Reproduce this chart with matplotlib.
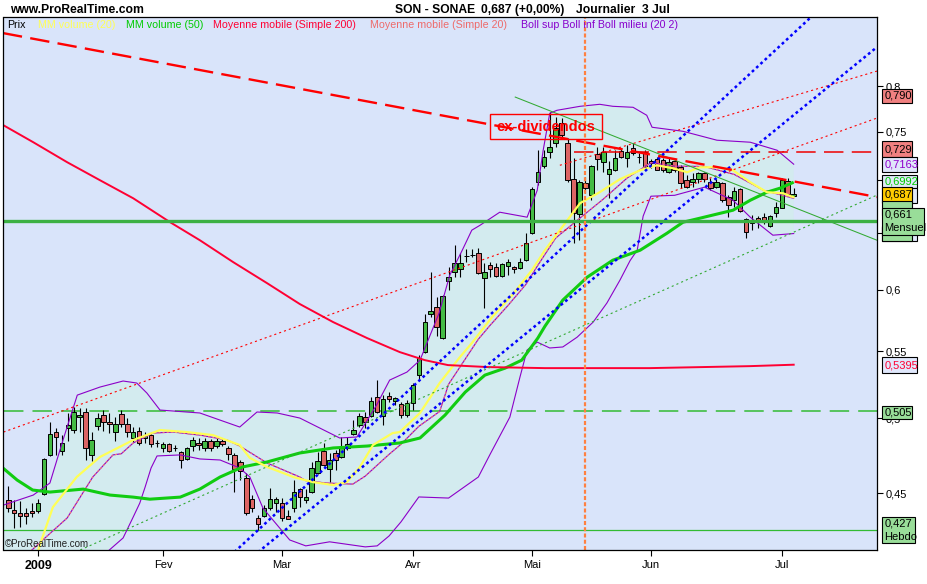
import numpy as np
import pandas as pd
import matplotlib
matplotlib.use("Agg")
import matplotlib.pyplot as plt
from matplotlib.patches import Rectangle
from matplotlib.ticker import NullLocator

plt.rcParams['font.family'] = ['Liberation Sans', 'DejaVu Sans']
plt.rcParams['lines.scale_dashes'] = False

# ---------------- data ----------------
start_date = '2008-12-23'
end_date = '2009-07-03'
closed_days = ['2008-12-25', '2008-12-26', '2009-01-01', '2009-04-10', '2009-04-13', '2009-05-01']
month_labels = ['2009', 'Fev', 'Mar', 'Avr', 'Mai', 'Jun', 'Jul']

opens = [0.4455, 0.4393, 0.4375, 0.4375, 0.4387, 0.4387, 0.4494, 0.4749, 0.4905, 0.4775,
         0.4933, 0.4919, 0.5010, 0.5046, 0.4749, 0.4947, 0.5024, 0.4975, 0.4905, 0.5031,
         0.4961, 0.4864, 0.4912, 0.4864, 0.4884, 0.4832, 0.4796, 0.4823, 0.4797, 0.4769,
         0.4722, 0.4809, 0.4830, 0.4796, 0.4843, 0.4809, 0.4843, 0.4796, 0.4749, 0.4702,
         0.4596, 0.4461, 0.4344, 0.4356, 0.4405, 0.4436, 0.4436, 0.4356, 0.4405, 0.4525,
         0.4455, 0.4506, 0.4629, 0.4775, 0.4655, 0.4762, 0.4735, 0.4796, 0.4891, 0.4954,
         0.5010, 0.5017, 0.5154, 0.5017, 0.5161, 0.5125, 0.5103, 0.5024, 0.5110, 0.5316,
         0.5492, 0.5795, 0.5853, 0.5602, 0.6071, 0.6149, 0.6175, 0.6288, 0.6296, 0.6316,
         0.6097, 0.6210, 0.6192, 0.6114, 0.6201, 0.6192, 0.6184, 0.6254, 0.6497, 0.6983,
         0.7142, 0.7285, 0.7379, 0.7590, 0.7379, 0.7013, 0.6674, 0.6973, 0.6855, 0.7265,
         0.7183, 0.7063, 0.7102, 0.7296, 0.7223, 0.7327, 0.7236, 0.7285, 0.7193, 0.7213,
         0.7203, 0.7082, 0.7193, 0.7132, 0.7003, 0.6983, 0.7013, 0.7072, 0.6983, 0.6934,
         0.6973, 0.6836, 0.6807, 0.6914, 0.6627, 0.6618, 0.6636, 0.6646, 0.6562, 0.6684,
         0.6731, 0.6993, 0.6850]
highs = [0.4545, 0.4455, 0.4449, 0.4405, 0.4436, 0.4461, 0.4729, 0.4975, 0.4933, 0.4884,
         0.5039, 0.5081, 0.5074, 0.5074, 0.4905, 0.5039, 0.5060, 0.5039, 0.5010, 0.5060,
         0.5003, 0.4940, 0.4940, 0.4905, 0.4905, 0.4850, 0.4836, 0.4830, 0.4816, 0.4775,
         0.4803, 0.4871, 0.4864, 0.4864, 0.4857, 0.4871, 0.4864, 0.4809, 0.4762, 0.4715,
         0.4629, 0.4487, 0.4362, 0.4424, 0.4532, 0.4474, 0.4468, 0.4393, 0.4583, 0.4532,
         0.4525, 0.4702, 0.4769, 0.4830, 0.4762, 0.4782, 0.4871, 0.4871, 0.4989, 0.5039,
         0.5046, 0.5154, 0.5279, 0.5168, 0.5190, 0.5154, 0.5117, 0.5132, 0.5257, 0.5469,
         0.5795, 0.6149, 0.5936, 0.5953, 0.6192, 0.6388, 0.6316, 0.6352, 0.6352, 0.6361,
         0.6228, 0.6237, 0.6228, 0.6228, 0.6263, 0.6201, 0.6272, 0.6497, 0.6934, 0.7306,
         0.7306, 0.7708, 0.7654, 0.7643, 0.7431, 0.7223, 0.7003, 0.7033, 0.7152, 0.7337,
         0.7337, 0.7193, 0.7306, 0.7316, 0.7358, 0.7379, 0.7275, 0.7306, 0.7213, 0.7234,
         0.7223, 0.7223, 0.7213, 0.7152, 0.7053, 0.7072, 0.7082, 0.7082, 0.7023, 0.7013,
         0.6983, 0.6855, 0.6934, 0.6924, 0.6636, 0.6665, 0.6655, 0.6684, 0.6665, 0.6788,
         0.7023, 0.7023, 0.6924]
lows = [0.4381, 0.4283, 0.4290, 0.4308, 0.4350, 0.4375, 0.4487, 0.4742, 0.4749, 0.4749,
        0.4843, 0.4898, 0.4905, 0.4715, 0.4708, 0.4919, 0.4912, 0.4898, 0.4843, 0.4940,
        0.4871, 0.4836, 0.4816, 0.4830, 0.4803, 0.4803, 0.4769, 0.4769, 0.4775, 0.4662,
        0.4715, 0.4775, 0.4782, 0.4775, 0.4775, 0.4796, 0.4809, 0.4715, 0.4506, 0.4583,
        0.4362, 0.4381, 0.4271, 0.4350, 0.4393, 0.4381, 0.4326, 0.4335, 0.4381, 0.4411,
        0.4436, 0.4500, 0.4622, 0.4675, 0.4570, 0.4649, 0.4729, 0.4782, 0.4884, 0.4940,
        0.4933, 0.5010, 0.5039, 0.4954, 0.5117, 0.5096, 0.5003, 0.5010, 0.5060, 0.5279,
        0.5484, 0.5770, 0.5617, 0.5594, 0.5995, 0.6106, 0.6106, 0.6237, 0.6281, 0.6132,
        0.5845, 0.6106, 0.6106, 0.6106, 0.6123, 0.6140, 0.6175, 0.6245, 0.6488, 0.6953,
        0.7122, 0.7223, 0.7337, 0.7441, 0.6983, 0.6406, 0.6433, 0.6875, 0.6807, 0.7102,
        0.7082, 0.6826, 0.7092, 0.7223, 0.7132, 0.7254, 0.7173, 0.7102, 0.7122, 0.7102,
        0.7082, 0.7072, 0.7082, 0.6924, 0.6924, 0.6934, 0.6973, 0.6983, 0.6904, 0.6924,
        0.6788, 0.6646, 0.6740, 0.6693, 0.6451, 0.6525, 0.6543, 0.6581, 0.6553, 0.6646,
        0.6731, 0.6855, 0.6846]
closes = [0.4405, 0.4375, 0.4356, 0.4356, 0.4375, 0.4436, 0.4722, 0.4891, 0.4871, 0.4830,
          0.4954, 0.5046, 0.5024, 0.4796, 0.4850, 0.5003, 0.4975, 0.4961, 0.4961, 0.4961,
          0.4905, 0.4905, 0.4830, 0.4884, 0.4823, 0.4830, 0.4823, 0.4775, 0.4795, 0.4715,
          0.4796, 0.4850, 0.4816, 0.4843, 0.4796, 0.4843, 0.4823, 0.4755, 0.4655, 0.4642,
          0.4375, 0.4405, 0.4308, 0.4405, 0.4461, 0.4461, 0.4344, 0.4338, 0.4506, 0.4474,
          0.4474, 0.4662, 0.4708, 0.4682, 0.4715, 0.4715, 0.4796, 0.4823, 0.4919, 0.5017,
          0.4975, 0.5125, 0.5046, 0.5139, 0.5139, 0.5146, 0.5024, 0.5110, 0.5242, 0.5445,
          0.5730, 0.5820, 0.5689, 0.5945, 0.6106, 0.6228, 0.6228, 0.6292, 0.6300, 0.6140,
          0.6149, 0.6175, 0.6114, 0.6219, 0.6237, 0.6175, 0.6237, 0.6406, 0.6914, 0.7082,
          0.7234, 0.7337, 0.7536, 0.7462, 0.7003, 0.6684, 0.6983, 0.6924, 0.7142, 0.7213,
          0.7285, 0.7112, 0.7223, 0.7234, 0.7285, 0.7275, 0.7232, 0.7132, 0.7173, 0.7102,
          0.7102, 0.7183, 0.7102, 0.6973, 0.6934, 0.7013, 0.7072, 0.7013, 0.6924, 0.6983,
          0.6807, 0.6759, 0.6894, 0.6703, 0.6507, 0.6590, 0.6599, 0.6609, 0.6655, 0.6740,
          0.7003, 0.6870, 0.6870]

# Moyenne mobile (Simple 200)
ma200_x = [-0.8, 4.2, 9.9, 15.4, 21.0, 27.2, 32.2, 37.8, 43.5, 49.0, 54.6, 60.3, 65.8,
           70.0, 73.9, 80.6, 90.2, 107.8, 124.6, 132.0]
ma200_y = [0.7568, 0.7389, 0.7183, 0.7003, 0.6826, 0.6599, 0.6433, 0.6237, 0.6054, 0.5878,
           0.5730, 0.5602, 0.5492, 0.5430, 0.5392, 0.5377, 0.5369, 0.5369, 0.5384, 0.5395]

# Bollinger (20, 2)
boll_up_x = [-0.8, 4.2, 7.0, 9.2, 11.6, 15.4, 19.3, 21.6, 23.3, 25.5, 32.2, 38.9, 41.8, 45.2,
             49.0, 55.7, 58.6, 61.9, 64.1, 67.0, 69.2, 72.4, 74.2, 76.3, 77.9, 79.3, 82.6,
             87.2, 88.9, 89.9, 91.0, 92.2, 96.1, 99.4, 101.6, 105.0, 107.3, 108.2, 113.4,
             119.1, 124.7, 129.2, 132.0]
boll_up_y = [0.4424, 0.4487, 0.4564, 0.4850, 0.5168, 0.5227, 0.5272, 0.5257, 0.5183, 0.5060,
             0.5039, 0.4940, 0.5046, 0.5039, 0.5003, 0.4864, 0.4871, 0.5096, 0.5279, 0.5339,
             0.5430, 0.5803, 0.6123, 0.6343, 0.6525, 0.6571, 0.6693, 0.6646, 0.6904, 0.7306,
             0.7697, 0.7730, 0.7774, 0.7796, 0.7774, 0.7763, 0.7676, 0.7547, 0.7504, 0.7410,
             0.7389, 0.7306, 0.7163]
boll_low_x = [-1.0, 5.0, 10.0, 14.0, 16.8, 19.3, 21.0, 22.1, 23.0, 24.0, 25.0, 28.9, 32.2,
              35.6, 38.9, 40.6, 42.8, 47.3, 50.0, 54.0, 57.0, 60.0, 62.0, 64.0, 66.0, 69.0,
              74.0, 79.0, 81.0, 84.3, 86.0, 87.2, 88.9, 91.0, 93.2, 95.6, 98.3, 100.6, 102.8,
              104.5, 105.7, 106.7, 108.0, 112.0, 117.0, 121.8, 124.7, 128.5, 132.0]
boll_low_y = [0.400, 0.395, 0.392, 0.400, 0.4146, 0.4223, 0.4350, 0.4436, 0.4538, 0.4662,
              0.4742, 0.4749, 0.4722, 0.4715, 0.4662, 0.4603, 0.4405, 0.4211, 0.4176, 0.4200,
              0.4185, 0.4170, 0.4176, 0.4235, 0.4320, 0.4475, 0.4468, 0.4603, 0.4755, 0.5010,
              0.5302, 0.5508, 0.5570, 0.5524, 0.5532, 0.5609, 0.5730, 0.5886, 0.6080, 0.6250,
              0.6343, 0.6656, 0.6846, 0.6855, 0.6934, 0.6807, 0.6646, 0.6479, 0.6494]
boll_mid_x = [-1.0, 3.0, 5.8, 9.9, 14.2, 17.6, 19.0, 21.0, 24.3, 27.7, 32.2, 36.8, 38.9,
              43.5, 49.0, 50.0, 53.5, 57.9, 60.0, 64.0, 66.0, 69.0, 72.5, 74.0, 79.0, 81.0,
              84.0, 87.0, 89.0, 92.0, 96.0, 100.0, 104.0, 108.0, 112.0, 117.0, 122.0, 127.0,
              132.0]
boll_mid_y = [0.405, 0.412, 0.4211, 0.4344, 0.4603, 0.4749, 0.4757, 0.4830, 0.4898, 0.4905,
              0.4884, 0.4850, 0.4809, 0.4695, 0.4603, 0.4579, 0.4564, 0.4557, 0.4609, 0.4753,
              0.4821, 0.4945, 0.5050, 0.5248, 0.5593, 0.5705, 0.5867, 0.6044, 0.6209, 0.6453,
              0.6634, 0.6818, 0.7024, 0.7178, 0.7143, 0.7140, 0.7060, 0.6902, 0.6826]

# MM volume (20) and MM volume (50)
mmv20_x = [4.5, 5.3, 7.5, 11.5, 15.4, 21.0, 25.5, 30.0, 34.4, 38.9, 40.6, 43.5, 46.2, 47.9,
           51.2, 54.6, 56.9, 59.1, 61.3, 64.6, 65.8, 69.2, 72.5, 75.9, 77.9, 81.3, 84.7,
           88.0, 90.2, 92.7, 96.1, 99.4, 102.8, 106.2, 109.0, 111.7, 114.1, 116.2, 119.1,
           121.8, 124.7, 127.5, 130.2, 132.0]
mmv20_y = [0.408, 0.4181, 0.4411, 0.4603, 0.4735, 0.4850, 0.4919, 0.4905, 0.4884, 0.4816,
           0.4729, 0.4669, 0.4629, 0.4603, 0.4570, 0.4551, 0.4570, 0.4669, 0.4816, 0.4898,
           0.4905, 0.5039, 0.5257, 0.5453, 0.5562, 0.5770, 0.5953, 0.6166, 0.6343, 0.6525,
           0.6779, 0.6885, 0.7013, 0.7102, 0.7152, 0.7122, 0.7082, 0.7132, 0.7132, 0.7102,
           0.6983, 0.6885, 0.6875, 0.6836]
mmv50_x = [-0.9, 1.5, 4.1, 7.0, 12.6, 17.1, 21.0, 23.8, 28.9, 32.2, 35.6, 39.4, 43.5, 49.0,
           54.6, 60.3, 65.8, 69.2, 73.4, 76.8, 80.1, 83.5, 86.3, 89.0, 90.2, 93.2, 97.3,
           101.6, 106.2, 110.7, 113.4, 116.2, 121.8, 124.7, 127.5, 129.7, 132.0]
mmv50_y = [0.4662, 0.4583, 0.4519, 0.4506, 0.4525, 0.4487, 0.4474, 0.4461, 0.4474, 0.4525,
           0.4603, 0.4669, 0.4702, 0.4762, 0.4796, 0.4809, 0.4830, 0.4864, 0.5024, 0.5190,
           0.5316, 0.5369, 0.5430, 0.5602, 0.5697, 0.5911, 0.6106, 0.6254, 0.6343, 0.6497,
           0.6599, 0.6636, 0.6712, 0.6807, 0.6885, 0.6924, 0.6983]

# hand-drawn trend lines (index, price) end points
trend_red_dash = ([-0.9, 146.0], [0.8622, 0.6838])
trend_red_dot_long = ([-0.8, 146.0], [0.4905, 0.7646])
trend_red_dot_up = ([92.7, 146.0], [0.7152, 0.8171])
trend_green_down = ([85.2, 146.0], [0.7876, 0.6433])
trend_green_dot = ([12.1, 146.0], [0.4152, 0.6857])
trend_blue_1 = ([37.3, 136.2], [0.4117, 0.8908])
trend_blue_2 = ([41.2, 146.0], [0.4117, 0.8453])

# horizontal levels
level_mensuel = 0.661
level_505 = 0.505
level_hebdo = 0.427
level_729 = 0.729
level_729_start = 95
ex_div_index = 97

y_ticks = [0.45, 0.5, 0.55, 0.6, 0.65, 0.7, 0.75, 0.8]
y_tick_labels = ['0,45', '0,5', '0,55', '0,6', '', '', '0,75', '0,8']

# ---------------- figure ----------------
W, H = 928, 584
fig = plt.figure(figsize=(W / 100, H / 100), dpi=100)
fig.patch.set_facecolor('white')
ax = fig.add_axes([3.5 / W, 1 - 550 / H, (877 - 3.5) / W, (550 - 17) / H])
ax.set_facecolor('#d9e4fa')

days = pd.bdate_range(start_date, end_date)
days = days[~days.isin(pd.to_datetime(closed_days))]
n = len(days)
idx = np.arange(n)
months = days.to_period('M')
tick_idx = [i for i in range(1, n) if months[i] != months[i - 1]]

O = np.array(opens); Hh = np.array(highs); L = np.array(lows); C = np.array(closes)

ax.set_yscale('log')
X0, X1 = -0.8, 146.0
ax.set_xlim(X0, X1)
ax.set_ylim(0.41517, 0.8820)

# bollinger fill
ux, uy = np.array(boll_up_x), np.array(boll_up_y)
lx, ly = np.array(boll_low_x), np.array(boll_low_y)
ax.fill(np.concatenate([ux, lx[::-1]]), np.concatenate([uy, ly[::-1]]),
        color='#d3ebef', lw=0, zorder=1)

# horizontal levels
ax.plot([X0, X1], [level_hebdo, level_hebdo], color='#33bb33', lw=0.9, zorder=2)
ax.plot([X0, X1], [level_505, level_505], color='#33bb33', lw=1.1, dashes=(14, 6.5), zorder=2)

# candles
up = C >= O
body_lo = np.minimum(O, C)
body_hi = np.maximum(O, C)
ax.vlines(idx, L, Hh, color='black', lw=0.8, zorder=3)
ax.bar(idx, body_hi - body_lo, bottom=body_lo, width=0.76,
       color=np.where(up, '#44bb44', '#dc6464'), edgecolor='black', linewidth=0.7, zorder=4)

# indicators
ax.plot(boll_up_x, boll_up_y, color='#8c00c8', lw=0.8, zorder=5)
ax.plot(boll_low_x, boll_low_y, color='#8c00c8', lw=0.8, zorder=5)
ax.plot(boll_mid_x, boll_mid_y, color='#8c00c8', lw=0.8, zorder=5)
ax.plot(boll_mid_x, boll_mid_y, color='#f07878', lw=0.9, dashes=(1.5, 1.5), zorder=5)
ax.plot(mmv50_x, mmv50_y, color='#11cc11', lw=2.2, zorder=5, solid_capstyle='butt')
ax.plot(mmv20_x, mmv20_y, color='#ffff55', lw=1.6, zorder=5)
ax.plot(ma200_x, ma200_y, color='#ff0033', lw=1.4, zorder=5)

# trend lines
ax.plot(*trend_red_dot_long, color='#ff0000', lw=0.8, dashes=(1.5, 2.2), zorder=6)
ax.plot(*trend_red_dot_up, color='#ff0000', lw=0.8, dashes=(1.5, 2.2), zorder=6)
ax.plot(*trend_green_down, color='#33aa33', lw=0.75, zorder=6)
ax.plot(*trend_green_dot, color='#33aa33', lw=0.8, dashes=(1.5, 2.2), zorder=6)
ax.plot(*trend_blue_1, color='#0000ff', lw=1.8, dashes=(2.0, 2.2), zorder=6)
ax.plot(*trend_blue_2, color='#0000ff', lw=1.8, dashes=(2.0, 2.2), zorder=6)
ax.plot(*trend_red_dash, color='#ff0000', lw=1.7, dashes=(14, 6), zorder=6)
ax.plot([level_729_start, X1], [level_729, level_729], color='#ee0000', lw=1.1,
        dashes=(14, 6), zorder=6)
ax.plot([X0, X1], [level_mensuel, level_mensuel], color='#3cb043', lw=2.4, zorder=6)
ax.axvline(ex_div_index, color='#ff8040', lw=1.6, dashes=(2.9, 1.6), zorder=7)

# axes styling
for s in ax.spines.values():
    s.set_color('black'); s.set_linewidth(0.9); s.set_zorder(8)
ax.yaxis.tick_right()
ax.set_yticks(y_ticks)
ax.set_yticklabels(y_tick_labels)
ax.yaxis.set_minor_locator(NullLocator())
ax.tick_params(axis='y', direction='out', length=4, width=0.8, pad=2, labelsize=8)
ax.set_xticks(tick_idx)
ax.set_xticklabels(month_labels)
ax.tick_params(axis='x', direction='out', length=4, width=0.8, pad=3, labelsize=8)
for t in ax.get_xticklabels():
    if t.get_text() == '2009':
        t.set_fontweight('bold'); t.set_fontsize(9)

def fx(x):
    return x / W

def fy(y):
    return 1 - y / H

# ex-dividendos annotation
fig.add_artist(Rectangle((fx(490), fy(139)), fx(602) - fx(490), fy(114) - fy(139),
                         transform=fig.transFigure, facecolor='none', edgecolor='#ff0000',
                         lw=1.0, zorder=9))
fig.text(fx(546), fy(127), 'ex-dividendos', color='#ff0000', fontsize=10.5,
         fontweight='bold', ha='center', va='center', zorder=9)

# titles
fig.text(fx(10), fy(10), 'www.ProRealTime.com', fontsize=8.7, fontweight='bold',
         ha='left', va='center')
fig.text(fx(395), fy(10), 'SON - SONAE', fontsize=8.7, fontweight='bold', ha='left', va='center')
fig.text(fx(481), fy(10), '0,687 (+0,00%)', fontsize=8.7, fontweight='bold', ha='left', va='center')
fig.text(fx(576), fy(10), 'Journalier  3 Jul', fontsize=8.7, fontweight='bold', ha='left', va='center')

# legend row
legend_items = [('Prix', '#000000', 7), ('MM volume (20)', '#ffff55', 38),
                ('MM volume (50)', '#00cc00', 126), ('Moyenne mobile (Simple 200)', '#ff0033', 213),
                ('Moyenne mobile (Simple 20)', '#ee6a6a', 370),
                ('Boll sup Boll inf Boll milieu (20 2)', '#8800cc', 521)]
for txt, col, xp in legend_items:
    fig.text(fx(xp), fy(24.5), txt, color=col, fontsize=7.7, ha='left', va='center', zorder=9)

fig.text(fx(5), fy(544), '\u00a9ProRealTime.com', fontsize=7, color='#222222',
         ha='left', va='center', zorder=9)

# right side value boxes
def box(x0, y0, x1, y1, face, lines, tcol='black', z=10):
    fig.add_artist(Rectangle((fx(x0), fy(y1)), fx(x1) - fx(x0), fy(y0) - fy(y1),
                             transform=fig.transFigure, facecolor=face,
                             edgecolor='black', lw=0.8, zorder=z))
    nl = len(lines)
    for k, t in enumerate(lines):
        yc = y0 + (y1 - y0) * (k + 0.5) / nl
        fig.text(fx(x0 + 2.5), fy(yc), t, color=tcol, fontsize=8, ha='left',
                 va='center', zorder=z + 0.05)

box(882, 89, 912, 103, '#f08080', ['0,790'])
box(882, 141, 912, 157, '#f08080', ['0,729'])
box(882, 157, 917, 172, '#e0e6fa', ['0,7163'], '#9000cc')
box(882, 175, 917, 188, '#e0e8f8', ['0,6992'], '#00cc00')
box(882, 188, 917, 203, '#e0e8f8', [], z=10.6)
box(882, 187, 912, 202, '#ffcc00', ['0,687'], z=11)
box(882, 201, 912, 215, '#99dd99', [], z=11.6)
box(882, 226, 917, 241, '#e0e6fa', [], z=11.7)
box(882, 227, 912, 241, '#99dd99', [], z=11.8)
box(882, 208, 924, 235, '#99dd99', ['0,661', 'Mensuel'], z=12)
box(882, 357, 917, 373, '#e0e8fc', ['0,5395'], '#ff0033')
box(882, 406, 912, 419, '#99dd99', ['0,505'])
box(882, 517, 915, 543, '#99dd99', ['0,427', 'Hebdo'])

fig.savefig('out.png', dpi=100, facecolor='white')
